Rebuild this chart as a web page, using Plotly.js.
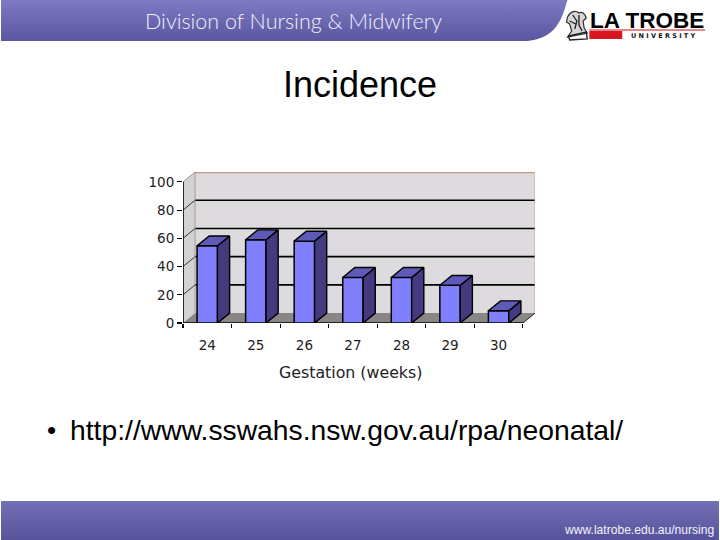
<!DOCTYPE html>
<html>
<head>
<meta charset="utf-8">
<script src="https://cdn.plot.ly/plotly-3.0.1.min.js"></script>
<style>html,body{margin:0;padding:0;background:#fff}#c{width:720px;height:540px}</style>
</head>
<body>
<div id="c"></div>
<script>
var categories = [24, 25, 26, 27, 28, 29, 30];
var values = [54.7, 59, 58, 32.3, 32.3, 26.7, 8.7];
var yTicks = [0, 20, 40, 60, 80, 100];
var gridLevels = [20, 40, 60, 80];
var xEdges = [23.5, 24.5, 25.5, 26.5, 27.5, 28.5, 29.5, 30.5];

var W = 720, H = 540;
var M = {l: 182.5, r: 184.5, t: 172, b: 217};
var DX = 0.25, DY = 7, BAR = 0.42, XMAX = 30.75, YMAX = 107;
function px(x){ return (x - M.l) / (W - M.l - M.r); }
function py(y){ return 1 - (y - M.t) / (H - M.t - M.b); }

var xLo = xEdges[0], xHi = xEdges[xEdges.length - 1];
function poly(pts, fill, lineColor, lineW){
  return {type:'path', xref:'x', yref:'y', layer:'below',
    path:'M' + pts.map(function(p){return p[0] + ',' + p[1];}).join('L') + 'Z',
    fillcolor:fill, line:{color:lineColor || fill, width:lineW || 0}};
}
function seg(x0,y0,x1,y1,color,w){
  return {type:'line', xref:'x', yref:'y', layer:'below', x0:x0,y0:y0,x1:x1,y1:y1, line:{color:color,width:w}};
}
var shapes = [
  poly([[xLo,0],[xLo+DX,DY],[xLo+DX,YMAX],[xLo,100]], '#d4d1d2'),
  poly([[xLo+DX,DY],[XMAX,DY],[XMAX,YMAX],[xLo+DX,YMAX]], '#dedbdf'),
  poly([[xLo,0],[xHi,0],[XMAX,DY],[xLo+DX,DY]], '#8b8686')
];
gridLevels.forEach(function(v){
  shapes.push(seg(xLo+DX, v+DY, XMAX, v+DY, '#000', 1.6));
  shapes.push(seg(xLo, v, xLo+DX, v+DY, '#333', 1));
});
shapes.push(seg(xLo, 100, xLo+DX, YMAX, '#999', 1));
shapes.push(seg(xLo+DX, YMAX, XMAX, YMAX, '#c39a82', 2.4));
shapes.push(seg(XMAX, DY, XMAX, YMAX, '#cfa890', 1));
shapes.push(seg(xLo+DX, DY, xLo+DX, YMAX, '#8f8c8f', 0.8));
shapes.push(seg(xHi, 0, XMAX, DY, '#222', 1));
shapes.push(seg(xLo, 0, xLo, 100, '#000', 1.6));
shapes.push(seg(xLo, 0, xHi, 0, '#000', 1.4));

var sideX = [], sideY = [], topX = [], topY = [];
categories.forEach(function(c, i){
  var r = c + BAR/2, l = c - BAR/2, v = values[i];
  sideX.push(r, r+DX, r+DX, r, r, null);
  sideY.push(0, DY, v+DY, v, 0, null);
  topX.push(l, l+DX, r+DX, r, l, null);
  topY.push(v, v+DY, v+DY, v, v, null);
});

var traces = [
  {type:'bar', x:categories, y:values, width:BAR,
   marker:{color:'#8080ff', line:{color:'#000', width:1.5}}, hoverinfo:'x+y', showlegend:false},
  {type:'scatter', mode:'lines', x:sideX, y:sideY, fill:'toself', fillcolor:'#433a80',
   line:{color:'#000', width:1.4}, hoverinfo:'skip', showlegend:false, cliponaxis:false},
  {type:'scatter', mode:'lines', x:topX, y:topY, fill:'toself', fillcolor:'#5d5ab8',
   line:{color:'#000', width:1.4}, hoverinfo:'skip', showlegend:false, cliponaxis:false}
];

function grad(top, bot, body){
  return 'data:image/svg+xml;utf8,' + encodeURIComponent(
    '<svg xmlns="http://www.w3.org/2000/svg" width="720" height="41" viewBox="0 0 720 41" preserveAspectRatio="none">' +
    '<defs><linearGradient id="g" x1="0" y1="0" x2="0" y2="1"><stop offset="0" stop-color="' + top + '"/>' +
    '<stop offset="1" stop-color="' + bot + '"/></linearGradient></defs>' + body + '</svg>');
}
var topBanner = grad('#7d7bc4', '#5a569f', '<path d="M0 0H568C562 22 555 38 528 41H0Z" fill="url(#g)"/>');
var footBanner = grad('#7370b8', '#57539b', '<rect width="720" height="41" fill="url(#g)"/>');
var crest = 'data:image/svg+xml;utf8,' + encodeURIComponent(
  '<svg xmlns="http://www.w3.org/2000/svg" width="26" height="32" viewBox="0 0 26 32">' +
  '<path d="M4 8C7 2 12 1 15 4C18 2 21 5 22 9L19 12L20 19L23 24L4 28L8 22L6 15L3 13Z" fill="#d8d8d8" stroke="#333" stroke-width="1.2"/>' +
  '<path d="M9 6L13 12L11 20M15 6L15 16L18 22M6 12L12 15M5 27L22 23L23 30L6 31Z" fill="none" stroke="#222" stroke-width="1.3"/>' +
  '</svg>');

var images = [
  {source:topBanner, xref:'paper', yref:'paper', x:px(0), y:py(0), sizex:720/(W-M.l-M.r), sizey:41/(H-M.t-M.b), sizing:'stretch', layer:'below'},
  {source:footBanner, xref:'paper', yref:'paper', x:px(0), y:py(501), sizex:720/(W-M.l-M.r), sizey:39/(H-M.t-M.b), sizing:'stretch', layer:'below'},
  {source:crest, xref:'paper', yref:'paper', x:px(564), y:py(9), sizex:27/(W-M.l-M.r), sizey:32/(H-M.t-M.b), sizing:'stretch', layer:'below'}
];
shapes.push({type:'rect', xref:'paper', yref:'paper', x0:px(590), x1:px(623), y0:py(31), y1:py(39), fillcolor:'#d9141e', line:{width:0}});
shapes.push({type:'line', xref:'paper', yref:'paper', x0:px(590), x1:px(706), y0:py(30), y1:py(30), line:{color:'#c8141e', width:1.2}});

function note(text, x, y, anchor, size, color, family, weight){
  return {text:text, xref:'paper', yref:'paper', x:px(x), y:py(y), xanchor:anchor, yanchor:'middle',
    showarrow:false, align:anchor, font:{size:size, color:color, family:family || 'Liberation Sans, Arial, sans-serif', weight:weight || 400}};
}
var annotations = [
  note('Division of Nursing &amp; Midwifery', 293, 21, 'center', 21.5, '#f0f0f8', 'Lato, sans-serif', 300),
  note('<b>LA TROBE</b>', 648, 20.5, 'center', 22.5, '#000'),
  note('<b>U N I V E R S I T Y</b>', 664, 35.5, 'center', 6.5, '#111', 'DejaVu Sans, sans-serif'),
  note('Incidence', 360, 85, 'center', 36, '#000'),
  note('Gestation (weeks)', 350.5, 372, 'center', 15.8, '#222', 'DejaVu Sans, sans-serif'),
  note('•', 44, 430, 'left', 26, '#000'),
  note('http://www.sswahs.nsw.gov.au/rpa/neonatal/', 67, 430, 'left', 28.3, '#000'),
  note('www.latrobe.edu.au/nursing', 717, 530, 'right', 12.1, '#f2f2fa')
];

var layout = {
  width:W, height:H, margin:M, showlegend:false,
  paper_bgcolor:'#fff', plot_bgcolor:'rgba(0,0,0,0)',
  bargap:0,
  xaxis:{range:[xLo, XMAX], tickmode:'array', tickvals:categories, ticktext:categories.map(String),
    ticks:'outside', ticklen:10, tickcolor:'rgba(0,0,0,0)', showgrid:false, zeroline:false, showline:false,
    tickfont:{family:'DejaVu Sans, sans-serif', size:13.5, color:'#222'},
    minor:{tickmode:'array', tickvals:xEdges, ticks:'outside', ticklen:4, tickcolor:'#000', tickwidth:1.2, showgrid:false}},
  yaxis:{range:[0, YMAX], tickmode:'array', tickvals:yTicks, ticktext:yTicks.map(String),
    ticks:'outside', ticklen:5, tickcolor:'#000', tickwidth:1.2, showgrid:false, zeroline:false, showline:false,
    tickfont:{family:'DejaVu Sans, sans-serif', size:13.5, color:'#222'}},
  shapes:shapes, images:images, annotations:annotations
};
Plotly.newPlot('c', traces, layout, {displayModeBar:false, staticPlot:true});
</script>
</body>
</html>
